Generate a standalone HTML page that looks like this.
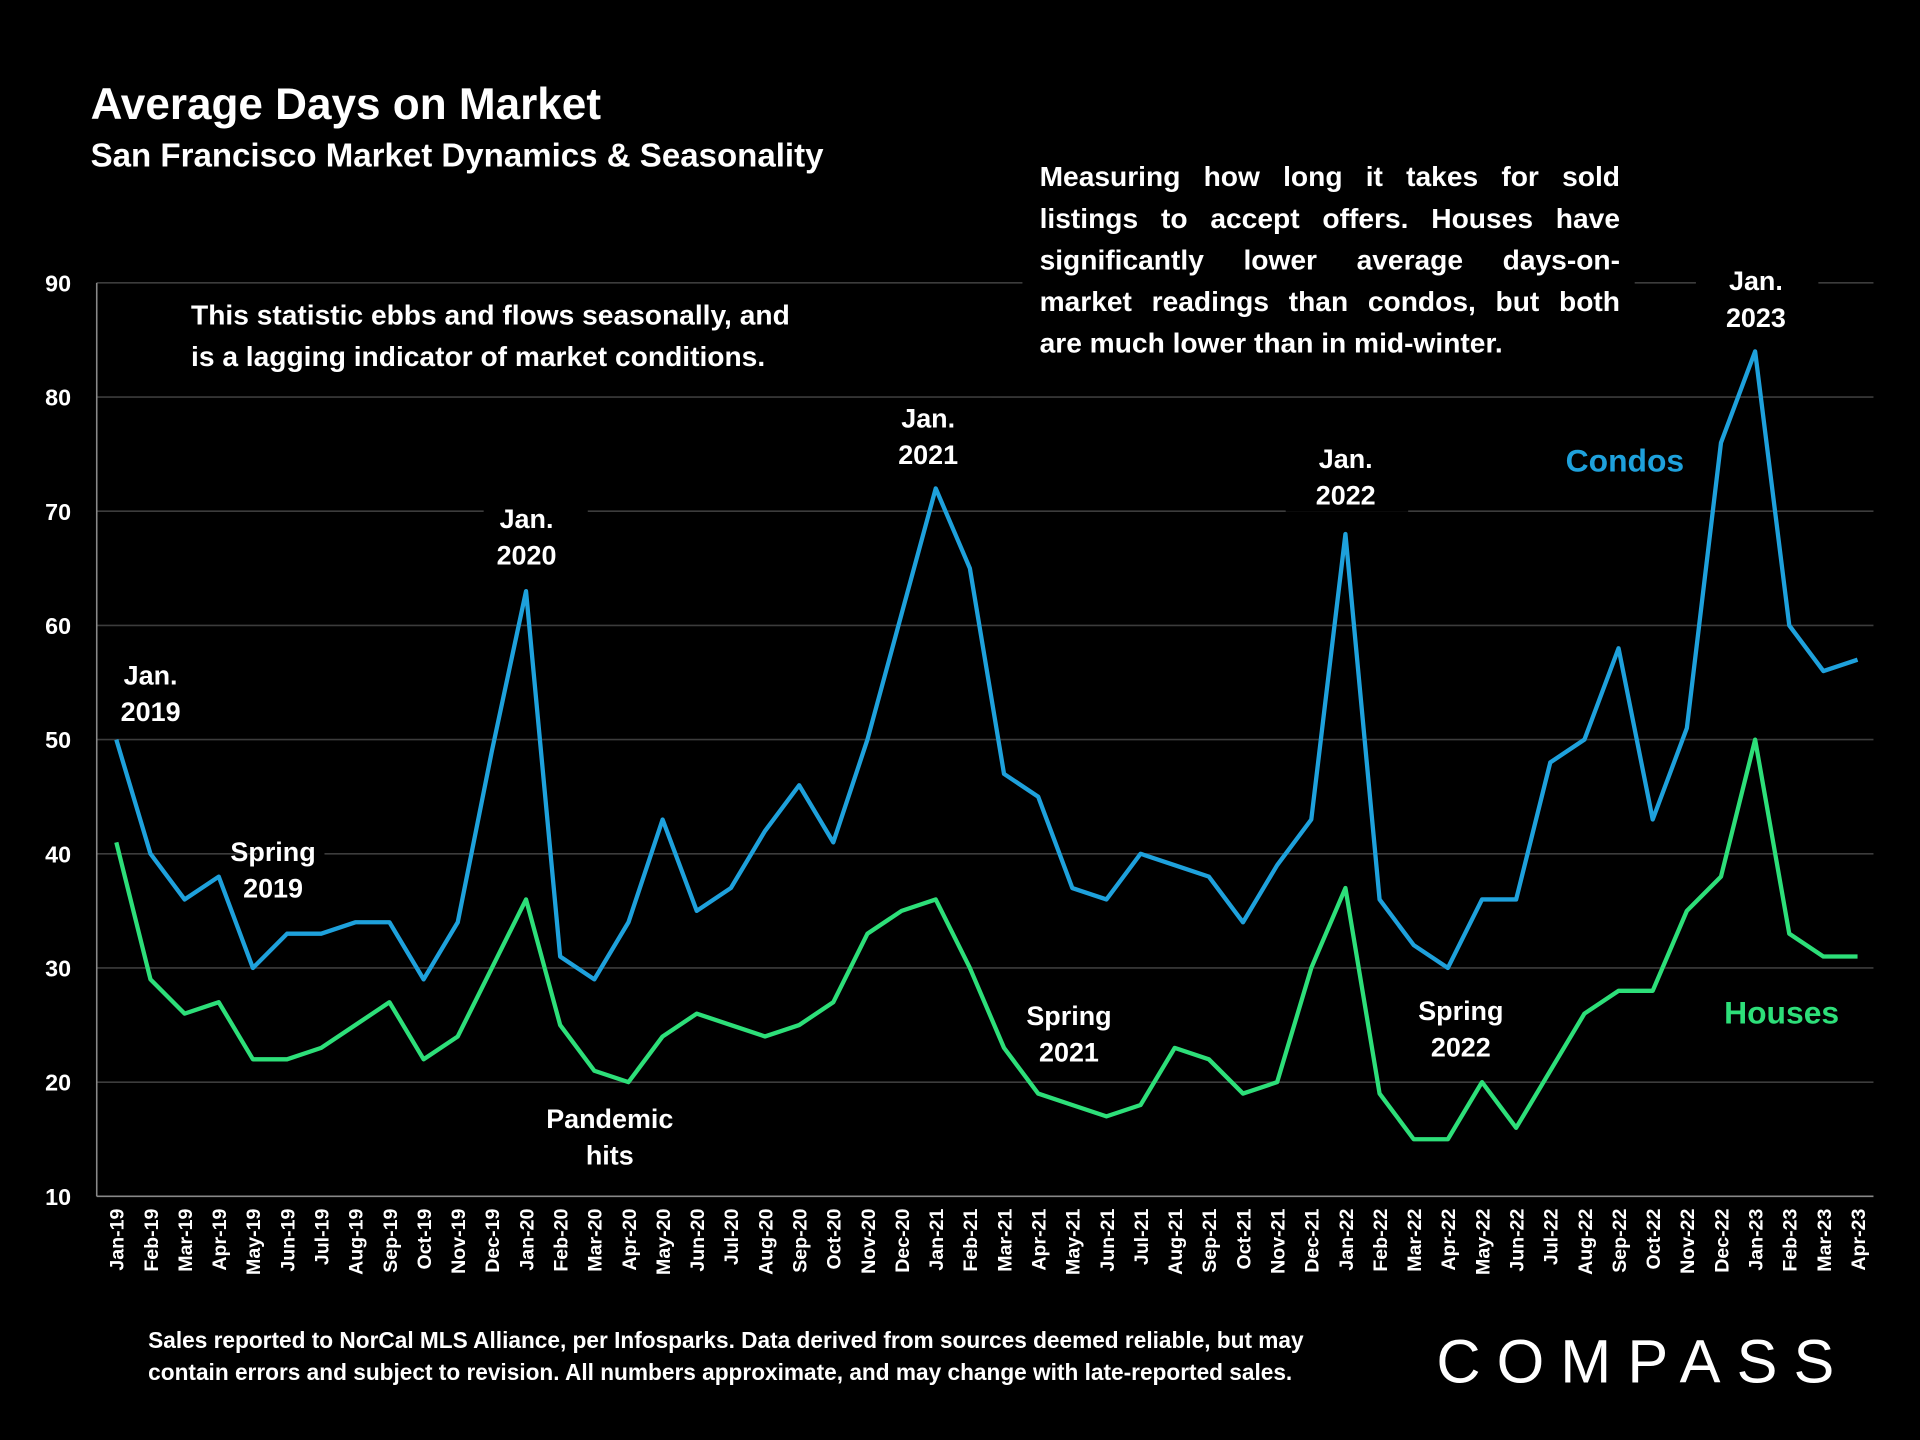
<!DOCTYPE html>
<html><head><meta charset="utf-8"><style>
html,body{margin:0;padding:0;background:#000;}
svg{display:block;}
text{font-family:"Liberation Sans",sans-serif;font-weight:bold;}
</style></head><body>
<svg id="chart" width="1920" height="1440" viewBox="0 0 1568 1176" xmlns="http://www.w3.org/2000/svg">
<rect width="1568" height="1176" fill="#000"/>
<text x="74" y="97" font-size="36" fill="#fff">Average Days on Market</text>
<text x="74" y="136" font-size="27" fill="#fff">San Francisco Market Dynamics &amp; Seasonality</text>
<g id="grid"></g>
<g id="axes"></g>
<g id="series"></g>
<g id="notes"></g>
<text x="121" y="1101" font-size="18.5" fill="#fff" style="font-weight:bold">Sales reported to NorCal MLS Alliance, per Infosparks. Data derived from sources deemed reliable, but may</text>
<text x="121" y="1127" font-size="18.5" fill="#fff">contain errors and subject to revision. All numbers approximate, and may change with late-reported sales.</text>
<text x="1173" y="1129" font-size="50" fill="#fff" style="font-weight:normal" letter-spacing="7" textLength="332">COMPASS</text>
</svg>
<script>
const months=["Jan-19","Feb-19","Mar-19","Apr-19","May-19","Jun-19","Jul-19","Aug-19","Sep-19","Oct-19","Nov-19","Dec-19","Jan-20","Feb-20","Mar-20","Apr-20","May-20","Jun-20","Jul-20","Aug-20","Sep-20","Oct-20","Nov-20","Dec-20","Jan-21","Feb-21","Mar-21","Apr-21","May-21","Jun-21","Jul-21","Aug-21","Sep-21","Oct-21","Nov-21","Dec-21","Jan-22","Feb-22","Mar-22","Apr-22","May-22","Jun-22","Jul-22","Aug-22","Sep-22","Oct-22","Nov-22","Dec-22","Jan-23","Feb-23","Mar-23","Apr-23"];
const condos=[50,40,36,38,30,33,33,34,34,29,34,49,63,31,29,34,43,35,37,42,46,41,50,61,72,65,47,45,37,36,40,39,38,34,39,43,68,36,32,30,36,36,48,50,58,43,51,76,84,60,56,57];
const houses=[41,29,26,27,22,22,23,25,27,22,24,30,36,25,21,20,24,26,25,24,25,27,33,35,36,30,23,19,18,17,18,23,22,19,20,30,37,19,15,15,20,16,21,26,28,28,35,38,50,33,31,31];
const yTicks=[10,20,30,40,50,60,70,80,90];
const NS="http://www.w3.org/2000/svg";
const x0=95,x1=1517,yTop=231,yBot=977,vMin=10,vMax=90;
const xs=i=>x0+(x1-x0)*i/(months.length-1);
const ys=v=>yBot-(v-vMin)/(vMax-vMin)*(yBot-yTop);
function mk(tag,parent,attrs){const e=document.createElementNS(NS,tag);for(const k in attrs)e.setAttribute(k,attrs[k]);document.getElementById(parent).appendChild(e);return e;}
yTicks.forEach(v=>{
  const g=mk('line','grid',{x1:79,x2:1530,y1:ys(v),y2:ys(v),stroke:v===10?'#888':'#3c3c3c','stroke-width':1.3});
  
  
  const t=mk('text','axes',{x:58,y:ys(v)+7,'font-size':19,'text-anchor':'end',fill:'#fff'});
  t.textContent=v;
  
  
});
const ax=mk('line','axes',{x1:79,x2:79,y1:yTop,y2:yBot,stroke:'#888','stroke-width':1.3});


months.forEach((m,i)=>{
  const t=mk('text','axes',{x:0,y:0,'font-size':16,'text-anchor':'end',fill:'#fff',transform:`translate(${xs(i)+6},${yBot+10}) rotate(-90)`});
  t.textContent=m;
  
  
});
function bg(x,y,w,h){const r=mk('rect','series',{x:x,y:y,width:w,height:h,fill:'#000'});}
bg(90,535,70,60);bg(210,680,55,25);bg(395,408,85,60);bg(710,325,100,60);bg(1050,358,100,60);bg(1385,215,100,60);
bg(140,238,560,70);bg(835,125,500,170);
function series(vals,color,name){
  const p=mk('polyline','series',{points:vals.map((v,i)=>xs(i)+','+ys(v)).join(' '),fill:'none',stroke:color,'stroke-width':3.5,'stroke-linejoin':'round'});
  
  
}
series(houses,'#2ddf79','houses-line');
series(condos,'#1ea1dc','condos-line');
function lbl(lines,cx,y,name,color,size){
  lines.forEach((s,k)=>{const t=mk('text','notes',{x:cx,y:y+k*30,'font-size':size||22,'text-anchor':'middle',fill:color||'#fff'});t.textContent=s;
  
  });
}
lbl(["Jan.","2019"],123,559,'label-jan-2019');
lbl(["Spring","2019"],223,703,'label-spring-2019');
lbl(["Jan.","2020"],430,431,'label-jan-2020');
lbl(["Pandemic","hits"],498,921,'label-pandemic-hits');
lbl(["Jan.","2021"],758,349,'label-jan-2021');
lbl(["Spring","2021"],873,837,'label-spring-2021');
lbl(["Jan.","2022"],1099,382,'label-jan-2022');
lbl(["Spring","2022"],1193,833,'label-spring-2022');
lbl(["Jan.","2023"],1434,237,'label-jan-2023');
lbl(["Condos"],1327,385,'legend-condos','#1ea1dc',26);
lbl(["Houses"],1455,836,'legend-houses','#2ddf79',26);
const left=["This statistic ebbs and flows seasonally, and","is a lagging indicator of market conditions."];
left.forEach((s,k)=>{const t=mk('text','notes',{x:156,y:265+k*34,'font-size':23,fill:'#fff'});t.textContent=s;

});
const right=["Measuring how long it takes for sold","listings to accept offers. Houses have","significantly lower average days-on-","market readings than condos, but both","are much lower than in mid-winter."];
right.forEach((s,k)=>{const t=mk('text','notes',{x:849,y:152+k*34,'font-size':23,fill:'#fff'});t.textContent=s;


if(k<4){const len=t.getComputedTextLength();const gaps=s.split(' ').length-1;const ws=(474-len)/gaps;t.setAttribute('word-spacing',ws);}
});
</script>
</body></html>
